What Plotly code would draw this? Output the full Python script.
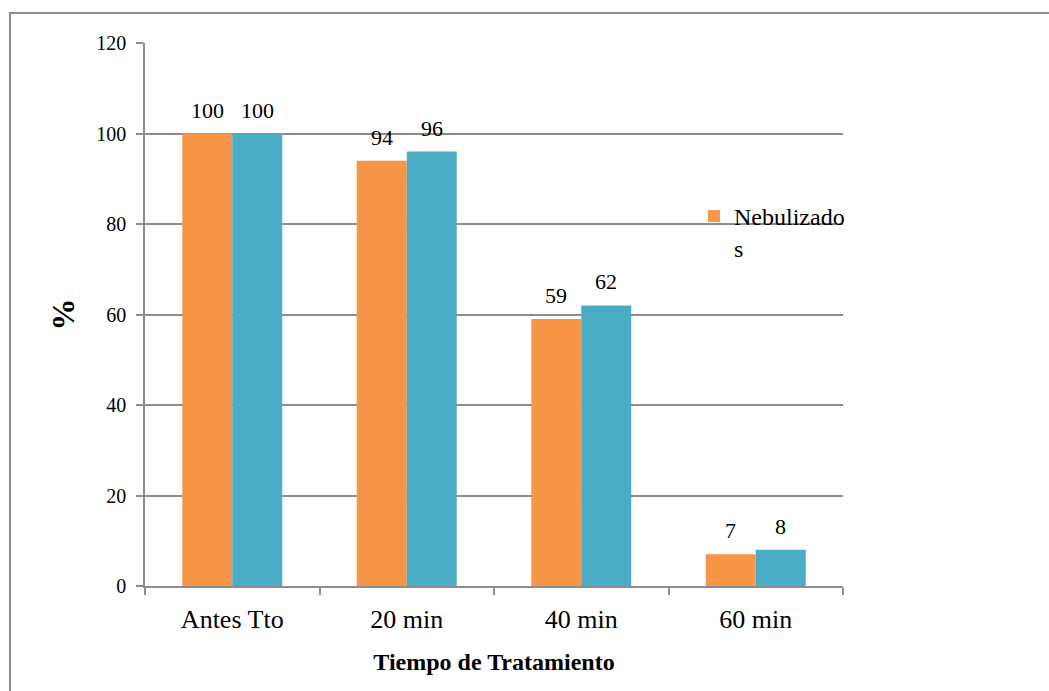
import plotly.graph_objects as go

# Treatment times and percentages for the two groups
categories = ["Antes Tto", "20 min", "40 min", "60 min"]
nebulizados = [100, 94, 59, 7]
serie_2 = [100, 96, 62, 8]
y_ticks = [0, 20, 40, 60, 80, 100, 120]

ORANGE = "#F79646"
TEAL = "#4BACC6"
GRID = "#8C8C8C"
FONT = "Liberation Serif"

W, H = 1049, 691
L, R, T, B = 145, 206, 43, 105
pw, ph = W - L - R, H - T - B
BAR_PX = 50  # half-offset of each bar from the category centre


def px_x(x):
    return (x - L) / pw


def px_y(y):
    return (H - B - y) / ph


fig = go.Figure()
fig.add_trace(go.Bar(
    x=categories, y=nebulizados, name="Nebulizado<br>s",
    marker=dict(color=ORANGE, line=dict(width=0)),
))
fig.add_trace(go.Bar(
    x=categories, y=serie_2, name="", showlegend=False,
    marker=dict(color=TEAL, line=dict(width=0)),
))

# value labels above each bar
for cat, v1, v2 in zip(categories, nebulizados, serie_2):
    for val, shift in ((v1, -BAR_PX / 2), (v2, BAR_PX / 2)):
        fig.add_annotation(
            x=cat, y=val, xref="x", yref="y", text=str(val),
            showarrow=False, xshift=shift, yshift=9, yanchor="bottom",
            font=dict(size=22, family=FONT, color="black"),
        )

# outer chart frame
fig.add_shape(type="rect", xref="paper", yref="paper",
              x0=px_x(10), x1=px_x(1070), y0=px_y(710), y1=px_y(13),
              line=dict(color="#8C8C8C", width=2), layer="below")

fig.update_layout(
    width=W, height=H,
    margin=dict(l=L, r=R, t=T, b=B),
    paper_bgcolor="white", plot_bgcolor="white",
    barmode="group", bargap=0.427, bargroupgap=0,
    font=dict(family=FONT, color="black", size=20),
    legend=dict(x=px_x(694), y=px_y(194), xanchor="left", yanchor="top",
                font=dict(size=24, family=FONT, color="black"),
                bgcolor="rgba(0,0,0,0)", itemwidth=30, valign="top",
                tracegroupgap=0),
    xaxis=dict(
        showline=True, linecolor=GRID, linewidth=1.5,
        ticks="outside", tickson="boundaries", ticklen=7,
        tickcolor=GRID, tickwidth=1.5, ticklabelstandoff=9,
        tickfont=dict(size=26, family=FONT, color="black"),
        title=dict(text="<b>Tiempo de Tratamiento</b>", standoff=20,
                   font=dict(size=24, family=FONT, color="black")),
        showgrid=False,
    ),
    yaxis=dict(
        range=[0, 120], tickvals=y_ticks,
        showline=True, linecolor=GRID, linewidth=1.5,
        ticks="outside", ticklen=7, tickcolor=GRID, tickwidth=1.5,
        ticklabelstandoff=6,
        showgrid=True, gridcolor=GRID, gridwidth=1.5,
        zeroline=False,
        tickfont=dict(size=20, family=FONT, color="black"),
        title=dict(text="<b>%</b>", standoff=12,
                   font=dict(size=32, family=FONT, color="black")),
    ),
)

fig.write_html("out.html")
